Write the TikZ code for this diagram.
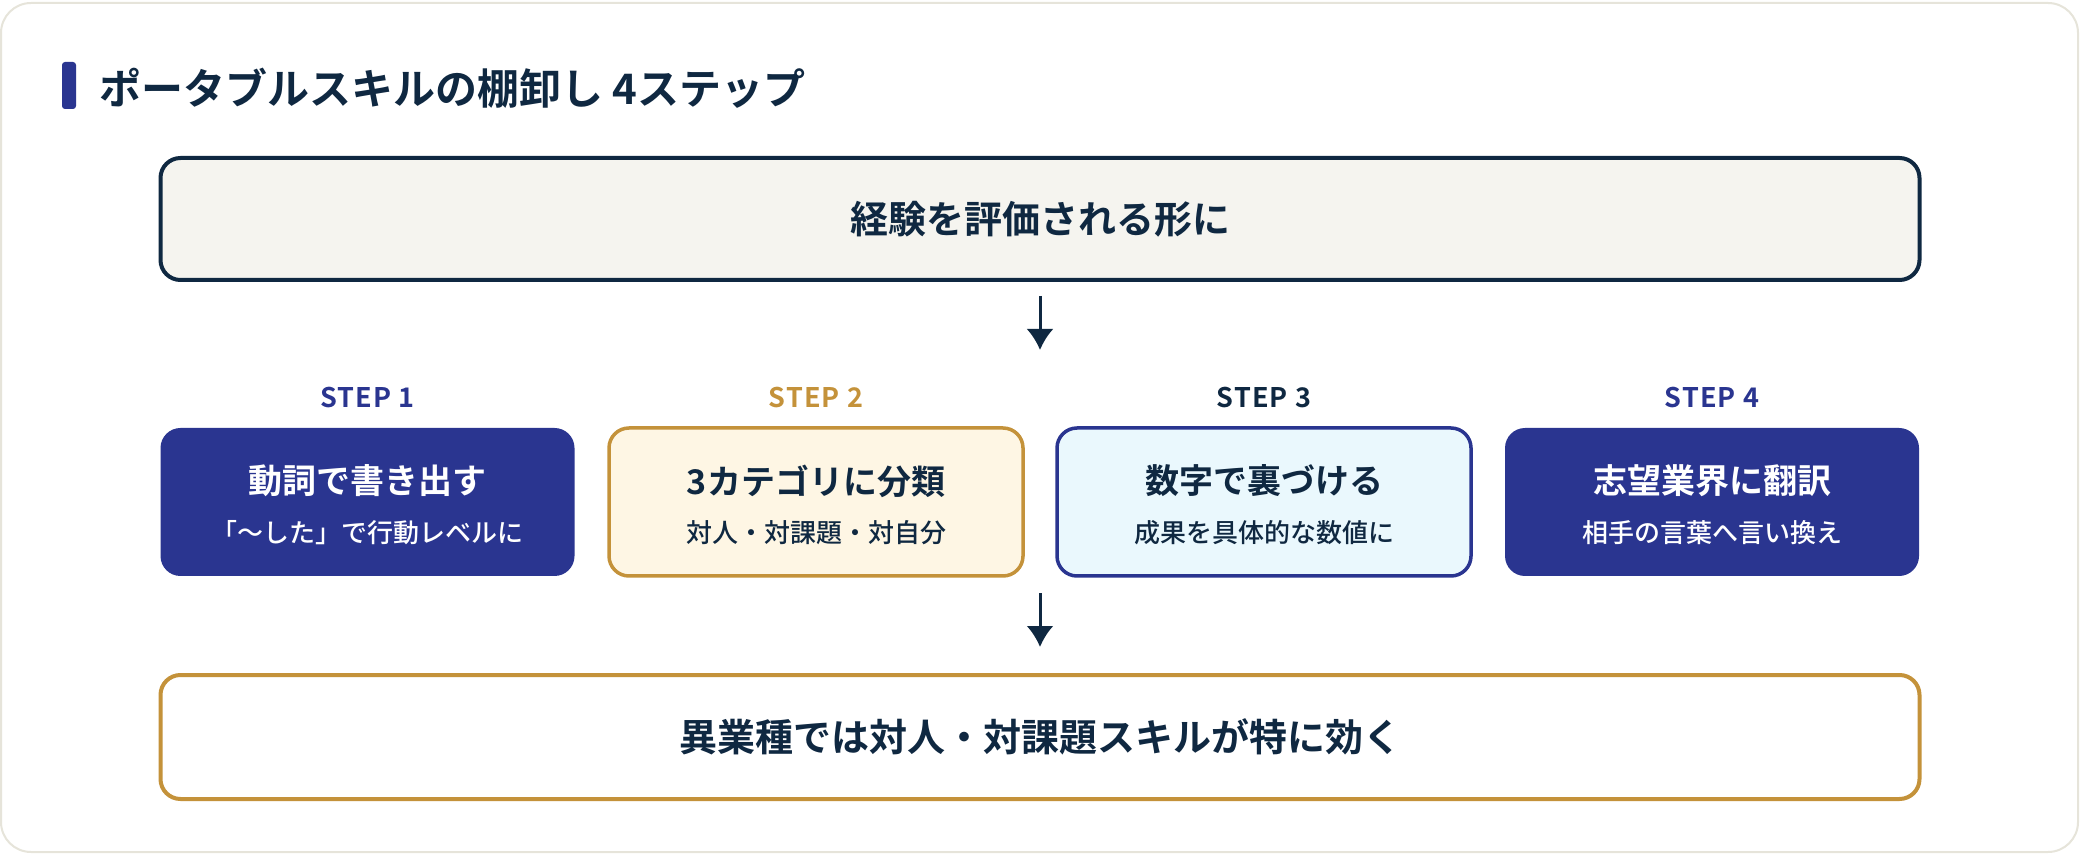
\documentclass[tikz,border=0pt]{standalone}
\usepackage{fontspec}
\setmainfont{Noto Sans CJK JP}[BoldFont={Noto Sans CJK JP Bold}]
\newfontfamily\steplabelfont{Noto Sans CJK JP Bold}[LetterSpace=4]
\newfontfamily\subfont{Noto Sans CJK JP Medium}
\usetikzlibrary{arrows.meta}
\definecolor{inkdark}{HTML}{0F2841}
\definecolor{navyfill}{HTML}{2A3590}
\definecolor{goldline}{HTML}{C4923A}
\definecolor{creamfill}{HTML}{FEF6E4}
\definecolor{icefill}{HTML}{EAF8FD}
\definecolor{paperfill}{HTML}{F5F4EF}
\definecolor{cardline}{HTML}{E6E4DA}

\begin{document}
\begin{tikzpicture}
  [x=0.5pt,y=-0.5pt,
   every node/.style={inner sep=0pt,text=inkdark},
   headbox/.style={draw=inkdark,fill=paperfill,line width=2pt,rounded corners=10pt,
     minimum width=879.5pt,minimum height=61pt,font=\fontsize{19}{22}\selectfont\bfseries},
   footbox/.style={draw=goldline,fill=white,line width=2pt,rounded corners=10pt,
     minimum width=879.5pt,minimum height=62pt,font=\fontsize{19}{22}\selectfont\bfseries},
   stepbox/.style={rounded corners=10pt,minimum width=207pt,minimum height=74pt,line width=1.75pt},
   steptitle/.style={font=\fontsize{17}{20}\selectfont\bfseries},
   stepsub/.style={font=\fontsize{13}{16}\subfont},
   steplabel/.style={font=\fontsize{13.5}{16}\steplabelfont},
   flowarrow/.style={draw=inkdark,line width=1.5pt,-{Latex[length=10.5pt,width=13.5pt]}}]
  \useasboundingbox (0,0) rectangle (2080,854);
  \draw[cardline,line width=1pt,fill=white,rounded corners=15pt] (1,3) rectangle (2078,852);

  % title
  \fill[navyfill,rounded corners=1.5pt] (62,62) rectangle (76,109);
  \node[anchor=west,font=\fontsize{21}{24}\selectfont\bfseries] (title) at (99,88)
    {ポータブルスキルの棚卸し 4ステップ};

  \node[headbox] (top) at (1040,219) {経験を評価される形に};
  \coordinate (a1tip) at (1040,350);

  % steps
  \node[stepbox,fill=navyfill] (s1) at (367.5,502) {};
  \node[stepbox,draw=goldline,fill=creamfill] (s2) at (816,502) {};
  \node[stepbox,draw=navyfill,fill=icefill] (s3) at (1264,502) {};
  \node[stepbox,fill=navyfill] (s4) at (1712,502) {};

  \foreach \n/\x/\c/\tc/\head/\sub in
    {1/367.5/navyfill/white/動詞で書き出す/「〜した」で行動レベルに,
     2/816/goldline/inkdark/3カテゴリに分類/対人・対課題・対自分,
     3/1264/inkdark/inkdark/数字で裏づける/成果を具体的な数値に,
     4/1712/navyfill/white/志望業界に翻訳/相手の言葉へ言い換え}
  {
    \node[steplabel,text=\c] (l\n) at (\x,398) {STEP \n};
    \node[steptitle,text=\tc] (t\n) at (\x,481) {\head};
    \node[stepsub,text=\tc] (u\n) at (\x,533) {\sub};
  }

  \coordinate (a2from) at (1040,593);
  \node[footbox] (bottom) at (1040,737) {異業種では対人・対課題スキルが特に効く};

  \draw[flowarrow,shorten <=7pt] (top.south) -- (a1tip);
  \draw[flowarrow,shorten >=13pt] (a2from) -- (bottom.north);

\end{tikzpicture}
\end{document}
